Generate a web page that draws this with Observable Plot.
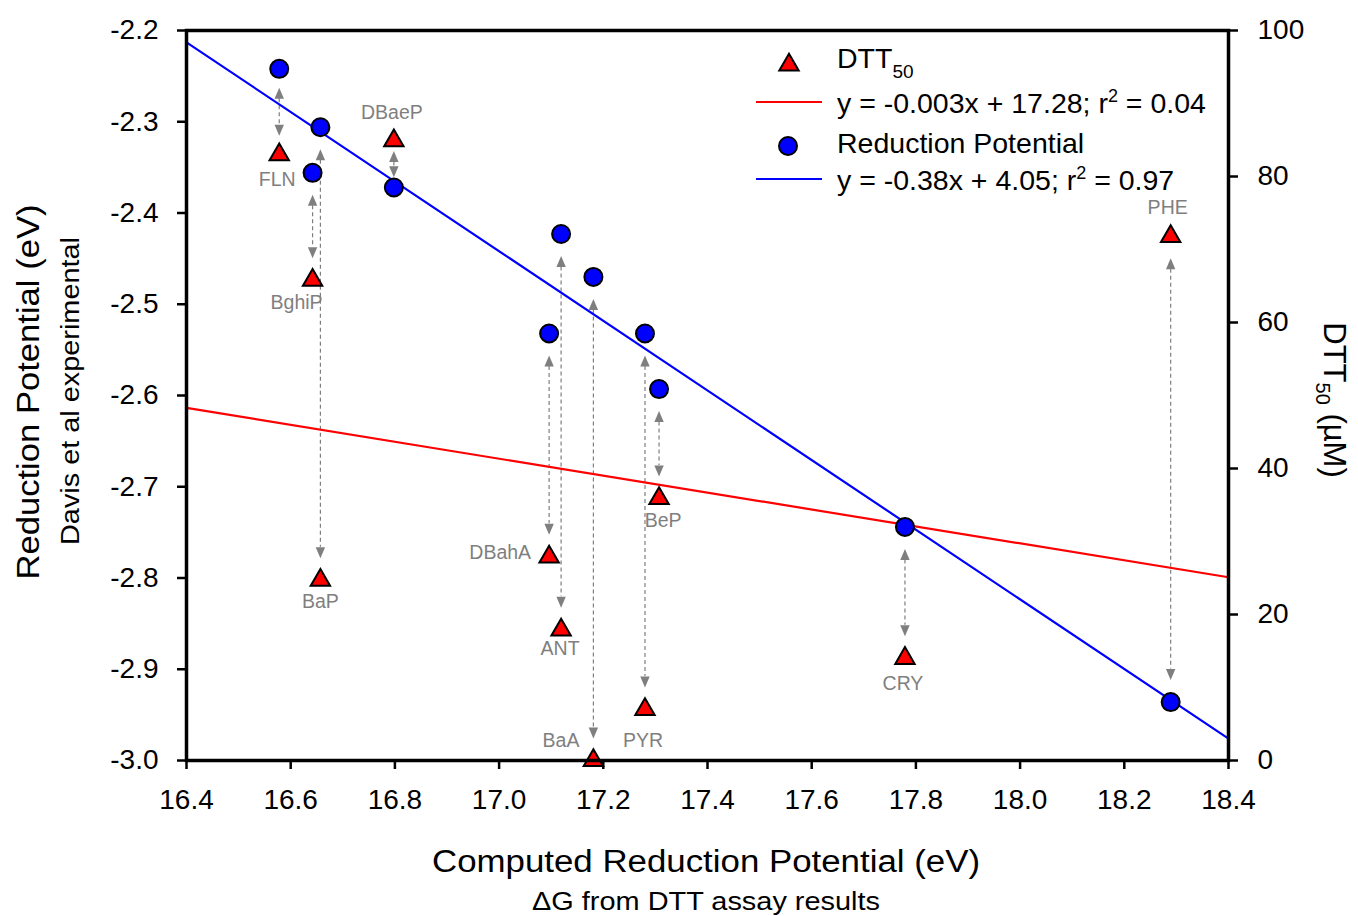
<!DOCTYPE html>
<html>
<head>
<meta charset="utf-8">
<script src="https://cdn.jsdelivr.net/npm/d3@7"></script>
<script src="https://cdn.jsdelivr.net/npm/@observablehq/plot@0.6"></script>
<style>
  html, body { margin: 0; padding: 0; background: #fff; }
  #chart { width: 1358px; height: 916px; }
</style>
</head>
<body>
<div id="chart"></div>
<script>
// ---------- data ----------
const compounds = ["FLN", "BghiP", "BaP", "DBaeP", "DBahA", "ANT", "BaA", "PYR", "BeP", "CRY", "PHE"];
const computedRP = [16.578, 16.642, 16.657, 16.798, 17.096, 17.119, 17.181, 17.280, 17.307, 17.779, 18.289];
const reductionPotential = [-2.242, -2.356, -2.306, -2.372, -2.532, -2.423, -2.470, -2.532, -2.593, -2.744, -2.936];
const dtt50 = [83.0, 65.8, 24.7, 84.9, 27.9, 17.9, 0.0, 7.0, 35.9, 14.0, 71.8];

// regression lines (end points)
const fitX = [16.4, 18.4];
const rpFitY = [-2.213, -2.976];
const dttFitY = [48.3, 25.1];

// tick values
const xTicks = [16.4, 16.6, 16.8, 17.0, 17.2, 17.4, 17.6, 17.8, 18.0, 18.2, 18.4];
const yTicksLeft = [-3.0, -2.9, -2.8, -2.7, -2.6, -2.5, -2.4, -2.3, -2.2];
const yTicksRight = [0, 20, 40, 60, 80, 100];

// ---------- layout ----------
const W = 1358, H = 916;
const mL = 186, mR = 130, mT = 30, mB = 156;
const xDom = [16.4, 18.4], yDom = [-3.0, -2.2];
const pxX = (W - mL - mR) / (xDom[1] - xDom[0]);
const pxY = (H - mT - mB) / (yDom[1] - yDom[0]);
// right axis (DTT50, µM 0..100) mapped onto left axis units (-3.0..-2.2)
const toLeft = d => yDom[0] + d * (yDom[1] - yDom[0]) / 100;
const fromLeft = v => (v - yDom[0]) * 100 / (yDom[1] - yDom[0]);

const rows = compounds.map((name, i) => ({
  name, x: computedRP[i], rp: reductionPotential[i], dtt: toLeft(dtt50[i])
}));
const fitRows = fitX.map((x, i) => ({ x, rp: rpFitY[i], dtt: toLeft(dttFitY[i]) }));

// double-headed dashed arrows between the two markers of each compound
const headLen = 11;
const arrows = rows.map(r => {
  const hi = Math.max(r.rp, r.dtt), lo = Math.min(r.rp, r.dtt);
  const dist = (hi - lo) * pxY;
  const inset = Math.min(22, 0.22 * dist);
  const tipTop = hi - inset / pxY, tipBot = lo + inset / pxY;
  return { x: r.x, tipTop, tipBot, lineTop: tipTop - headLen / pxY, lineBot: tipBot + headLen / pxY };
});
const headUp = { draw(ctx) { ctx.moveTo(0, 0); ctx.lineTo(-4.7, headLen); ctx.lineTo(4.7, headLen); ctx.closePath(); } };
const headDown = { draw(ctx) { ctx.moveTo(0, 0); ctx.lineTo(-4.7, -headLen); ctx.lineTo(4.7, -headLen); ctx.closePath(); } };

// compound label placement (pixel offsets from the triangle)
const labelDX = [-2, -16, 0, -2, -18, -1, -14, -2, 4, -2, -3];
const labelDY = [25, 23, 22, -28, -4, 19, -20, 31, 22, 25, -29];
const labelEnd = [false, false, false, false, true, false, true, false, false, false, false];
const labels = rows.map((r, i) => ({
  name: r.name, lx: r.x + labelDX[i] / pxX, ly: r.dtt - labelDY[i] / pxY, end: labelEnd[i]
}));

const FONT = "'Liberation Sans', Arial, Helvetica, sans-serif";

const plot = Plot.plot({
  width: W, height: H,
  marginLeft: mL, marginRight: mR, marginTop: mT, marginBottom: mB,
  x: { domain: xDom, label: null },
  y: { domain: yDom, label: null },
  style: { fontFamily: FONT, fontSize: "28px", color: "#000", background: "#fff" },
  marks: [
    Plot.ruleX(arrows, { x: "x", y1: "lineTop", y2: "lineBot", stroke: "#7f7f7f", strokeWidth: 1.2, strokeDasharray: "4,3" }),
    Plot.dot(arrows, { x: "x", y: "tipTop", symbol: headUp, fill: "#7f7f7f", r: 5 }),
    Plot.dot(arrows, { x: "x", y: "tipBot", symbol: headDown, fill: "#7f7f7f", r: 5 }),
    Plot.line(fitRows, { x: "x", y: "dtt", stroke: "#ff0000", strokeWidth: 2.2 }),
    Plot.line(fitRows, { x: "x", y: "rp", stroke: "#0000ff", strokeWidth: 2.2 }),
    Plot.dot(rows, { x: "x", y: "dtt", symbol: "triangle", r: 7.2, fill: "#ff0000", stroke: "#000", strokeWidth: 2 }),
    Plot.dot(rows, { x: "x", y: "rp", r: 9, fill: "#0000ff", stroke: "#000", strokeWidth: 2 }),
    Plot.text(labels.filter(d => !d.end), { x: "lx", y: "ly", text: "name", fill: "#7f7f7f", fontSize: 19.5, textAnchor: "middle" }),
    Plot.text(labels.filter(d => d.end), { x: "lx", y: "ly", text: "name", fill: "#7f7f7f", fontSize: 19.5, textAnchor: "end" }),
    Plot.axisX({ ticks: xTicks, tickFormat: d => d.toFixed(1), tickSize: 9, tickPadding: 20, strokeWidth: 2.5, fontSize: 28, label: null }),
    Plot.axisY({ ticks: yTicksLeft, anchor: "left", tickFormat: d => d.toFixed(1), tickSize: 9, tickPadding: 19, strokeWidth: 2.5, fontSize: 28, label: null }),
    Plot.axisY({ ticks: yTicksRight.map(toLeft), anchor: "right", tickFormat: d => String(Math.round(fromLeft(d))), tickSize: 9, tickPadding: 20, strokeWidth: 2.5, fontSize: 28, label: null }),
    Plot.frame({ stroke: "#000", strokeWidth: 3.5 })
  ]
});

document.getElementById("chart").appendChild(plot);

// ---------- titles and legend (static text) ----------
const svg = d3.select(plot);
const g = svg.append("g").attr("font-family", FONT).attr("fill", "#000");

// x axis title + subtitle
g.append("text").attr("x", 706).attr("y", 872).attr("text-anchor", "middle")
  .attr("font-size", 31).attr("textLength", 548).attr("lengthAdjust", "spacingAndGlyphs")
  .text("Computed Reduction Potential (eV)");
g.append("text").attr("x", 706).attr("y", 910).attr("text-anchor", "middle")
  .attr("font-size", 25).attr("textLength", 348).attr("lengthAdjust", "spacingAndGlyphs")
  .text("ΔG from DTT assay results");

// left axis title + subtitle
g.append("text").attr("transform", "translate(39,392) rotate(-90)").attr("text-anchor", "middle")
  .attr("font-size", 31).attr("textLength", 375).attr("lengthAdjust", "spacingAndGlyphs")
  .text("Reduction Potential (eV)");
g.append("text").attr("transform", "translate(79,391) rotate(-90)").attr("text-anchor", "middle")
  .attr("font-size", 25).attr("textLength", 308).attr("lengthAdjust", "spacingAndGlyphs")
  .text("Davis et al experimental");

// right axis title (rotated clockwise) with subscript
const rt = g.append("text").attr("transform", "translate(1324,400) rotate(90)").attr("text-anchor", "middle")
  .attr("font-size", 31);
rt.append("tspan").text("DTT");
rt.append("tspan").attr("font-size", 20).attr("dy", 8).text("50");
rt.append("tspan").attr("dy", -8).text(" (µM)");

// legend
const lg = g.append("g").attr("text-anchor", "start");
lg.append("path").attr("transform", "translate(789,65)")
  .attr("d", d3.symbol(d3.symbolTriangle, 7.2 * 7.2 * Math.PI)())
  .attr("fill", "#ff0000").attr("stroke", "#000").attr("stroke-width", 2);
const t1 = lg.append("text").attr("x", 837).attr("y", 68).attr("font-size", 28.5).attr("text-anchor", "start");
t1.append("tspan").text("DTT");
t1.append("tspan").attr("font-size", 19).attr("dy", 10).text("50");

lg.append("line").attr("x1", 756).attr("x2", 822).attr("y1", 102).attr("y2", 102)
  .attr("stroke", "#ff0000").attr("stroke-width", 2);
const t2 = lg.append("text").attr("x", 837).attr("y", 113).attr("font-size", 28.5).attr("text-anchor", "start");
t2.append("tspan").text("y = -0.003x + 17.28; r");
t2.append("tspan").attr("font-size", 18).attr("dy", -11).text("2");
t2.append("tspan").attr("dy", 11).text(" = 0.04");

lg.append("circle").attr("cx", 788).attr("cy", 146).attr("r", 9)
  .attr("fill", "#0000ff").attr("stroke", "#000").attr("stroke-width", 2);
lg.append("text").attr("x", 837).attr("y", 153).attr("font-size", 28.5).attr("text-anchor", "start").text("Reduction Potential");

lg.append("line").attr("x1", 756).attr("x2", 822).attr("y1", 179).attr("y2", 179)
  .attr("stroke", "#0000ff").attr("stroke-width", 2);
const t4 = lg.append("text").attr("x", 837).attr("y", 190).attr("font-size", 28.5).attr("text-anchor", "start");
t4.append("tspan").text("y = -0.38x + 4.05; r");
t4.append("tspan").attr("font-size", 18).attr("dy", -11).text("2");
t4.append("tspan").attr("dy", 11).text(" = 0.97");
</script>
</body>
</html>
